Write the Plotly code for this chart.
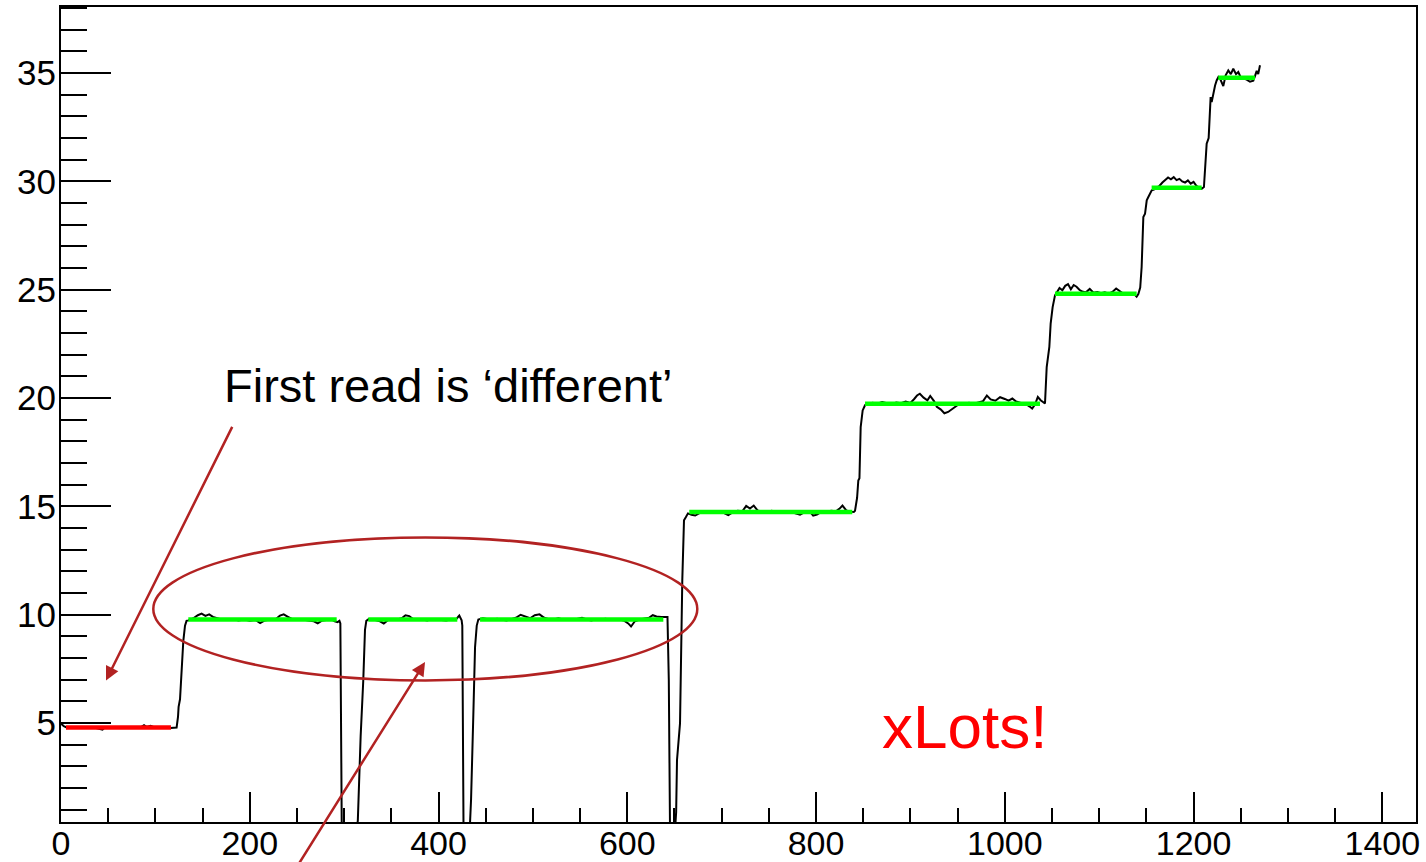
import numpy as np
import plotly.graph_objects as go

# ---- readings (black trace), one block per plateau / transition ----
plateau_a_x = [0, 3, 6, 12, 20, 28, 36, 44, 46, 52, 60, 68, 76, 84, 88, 91, 95, 99, 104, 110, 116, 121, 122.5]
plateau_a_y = [4.98, 4.86, 4.80, 4.78, 4.79, 4.77, 4.78, 4.70, 4.78, 4.79, 4.78, 4.77, 4.78, 4.79, 4.90, 4.82, 4.88, 4.80, 4.78, 4.79, 4.78, 4.77, 4.80]

rise_1_x = [124.0, 124.6, 126.1, 127.9, 129.6, 131.4, 133.0]
rise_1_y = [5.30, 5.75, 6.10, 7.60, 8.80, 9.50, 9.72]

plateau_b_x = [135, 138, 141, 145, 149, 153, 157, 161, 165, 170, 176, 182, 188, 194, 200, 206, 211, 216, 222, 228,
               232, 236, 240, 245, 250, 256, 262, 268, 272, 276, 281, 286, 290, 293, 295]
plateau_b_y = [9.74, 9.80, 9.86, 9.98, 10.05, 9.95, 10.02, 9.90, 9.84, 9.78, 9.76, 9.80, 9.74, 9.78, 9.72, 9.76, 9.62, 9.74, 9.78, 9.82,
               9.96, 10.02, 9.92, 9.80, 9.76, 9.78, 9.74, 9.70, 9.60, 9.72, 9.76, 9.80, 9.70, 9.66, 9.72]

drop_1_x = [296.0, 297.5, 313.0]
drop_1_y = [9.60, 0.0, 0.0]

rise_2_x = [314.5, 317.5, 320.3, 322.1, 323.5]
rise_2_y = [0.50, 4.40, 7.00, 9.30, 9.72]

plateau_c_x = [326, 329, 333, 338, 342, 346, 351, 356, 361, 365, 369, 373, 378, 383, 388, 393, 398, 403, 408, 413, 418, 422, 424.5]
plateau_c_y = [9.80, 9.78, 9.76, 9.70, 9.60, 9.74, 9.80, 9.78, 9.84, 9.98, 9.94, 9.80, 9.76, 9.78, 9.74, 9.80, 9.78, 9.76, 9.74, 9.78, 9.76, 9.96, 9.74]

drop_2_x = [425.2, 426.5, 433.0]
drop_2_y = [9.50, 0.0, 0.0]

rise_3_x = [434.5, 436.9, 438.7, 440.5, 442.2]
rise_3_y = [1.50, 5.40, 8.50, 9.50, 9.78]

plateau_d_x = [447, 452, 457, 462, 467, 472, 477, 482, 487, 492, 497, 502, 507, 512, 517, 522, 527, 532, 537, 542,
               547, 552, 557, 562, 567, 572, 577, 582, 587, 592, 597, 601, 604, 608, 613, 618, 623, 627, 631, 636, 641]
plateau_d_y = [9.84, 9.80, 9.76, 9.82, 9.78, 9.74, 9.80, 9.86, 10.00, 9.92, 9.84, 9.98, 10.02, 9.86, 9.80, 9.78, 9.84, 9.78, 9.80, 9.76,
               9.82, 9.86, 9.78, 9.74, 9.80, 9.78, 9.82, 9.76, 9.80, 9.78, 9.72, 9.60, 9.46, 9.70, 9.78, 9.82, 9.86, 9.98, 9.92, 9.90, 9.92]

drop_3_x = [642.6, 644.0, 645.3, 650.5]
drop_3_y = [9.90, 7.00, 0.0, 0.0]

rise_4_x = [651.8, 652.7, 655.9, 658.3, 660.1, 662.0, 664.3]
rise_4_y = [0.90, 3.30, 5.00, 11.60, 14.36, 14.50, 14.68]

plateau_e_x = [668, 672, 677, 682, 687, 692, 697, 702, 707, 712, 717, 722, 726, 730, 734, 738, 743, 748, 753, 758,
               763, 768, 773, 778, 783, 788, 793, 797, 801, 806, 811, 816, 821, 825, 828, 832, 836, 840]
plateau_e_y = [14.62, 14.58, 14.70, 14.74, 14.78, 14.72, 14.76, 14.70, 14.60, 14.74, 14.80, 14.78, 15.02, 14.90, 15.04, 14.82, 14.76, 14.74, 14.80, 14.74,
               14.78, 14.72, 14.76, 14.68, 14.62, 14.74, 14.78, 14.58, 14.62, 14.76, 14.74, 14.80, 14.78, 14.90, 15.04, 14.82, 14.76, 14.74]

rise_5_x = [841.3, 843.5, 844.8, 846.0, 846.6, 847.3, 849.4, 851.9]
rise_5_y = [14.80, 15.40, 16.20, 16.30, 17.70, 18.66, 19.43, 19.67]

plateau_f_x = [856, 860, 865, 870, 875, 880, 885, 890, 895, 900, 904, 907, 910, 914, 918, 921, 925, 928, 932, 936,
               940, 944, 948, 952, 957, 962, 967, 972, 977, 981, 985, 990, 995, 1000, 1004, 1008, 1012, 1017, 1022, 1026,
               1029, 1032, 1035, 1038, 1040.5]
plateau_f_y = [19.70, 19.78, 19.74, 19.82, 19.76, 19.72, 19.80, 19.76, 19.84, 19.78, 19.96, 20.12, 20.20, 20.02, 19.90, 20.10, 19.86, 19.60, 19.48, 19.30,
               19.36, 19.50, 19.62, 19.74, 19.70, 19.78, 19.74, 19.80, 19.86, 20.12, 19.94, 19.88, 20.04, 19.96, 19.88, 19.98, 19.84, 19.78, 19.74, 19.62,
               19.52, 19.70, 20.05, 19.90, 19.80]

rise_6_x = [1042.6, 1044.4, 1047.2, 1048.6, 1050.7, 1053.2]
rise_6_y = [19.75, 21.43, 22.36, 23.44, 24.20, 24.74]

plateau_g_x = [1055.5, 1058, 1061, 1064, 1067, 1070, 1073, 1076, 1079, 1082, 1086, 1090, 1094, 1098, 1102, 1106, 1110, 1114, 1118, 1121,
               1125, 1129, 1133, 1137, 1139.7]
plateau_g_y = [24.92, 25.08, 24.98, 25.18, 25.26, 25.02, 25.22, 25.14, 25.00, 24.92, 24.88, 25.04, 24.86, 24.90, 24.84, 24.88, 24.82, 24.90, 25.06, 24.96,
               24.84, 24.80, 24.76, 24.80, 24.68]

rise_7_x = [1141.5, 1143.5, 1145.0, 1146.8, 1148.6, 1150.4, 1152.1, 1155.7]
rise_7_y = [24.80, 25.10, 26.05, 28.36, 28.51, 29.13, 29.28, 29.59]

plateau_h_x = [1158, 1161, 1164, 1167, 1170, 1173, 1176, 1179, 1182, 1185, 1188, 1191, 1194, 1197, 1200, 1203, 1206, 1208.6]
plateau_h_y = [29.62, 29.72, 29.80, 29.95, 30.05, 30.18, 30.10, 30.20, 30.06, 30.12, 30.00, 29.95, 30.05, 29.90, 29.98, 29.80, 29.72, 29.66]

rise_8_x = [1211.0, 1213.9, 1216.0, 1218.1, 1219.2, 1221.0, 1222.8, 1224.5, 1226.3]
rise_8_y = [29.74, 31.74, 32.00, 33.89, 33.66, 34.12, 34.43, 34.66, 34.82]

plateau_i_x = [1228.5, 1231.5, 1234, 1236.8, 1239.5, 1242.1, 1245, 1247.4, 1250, 1253, 1256.3, 1259.8, 1263.3, 1265, 1266.9, 1268.5, 1270.4]
plateau_i_y = [34.70, 34.40, 34.90, 35.12, 34.95, 35.20, 34.95, 35.05, 34.80, 34.75, 34.70, 34.60, 34.65, 34.85, 35.10, 34.95, 35.36]

# ---- fitted plateau levels ----
first_fit_x = [5.3, 116.5]
first_fit_level = 4.80

fit_start = [134.9, 325.6, 444.0, 665.7, 851.9, 1053.2, 1155.6, 1226.2]
fit_end = [292.1, 419.9, 638.2, 838.4, 1037.3, 1139.7, 1208.6, 1265.1]
fit_level = [9.78, 9.78, 9.78, 14.74, 19.74, 24.82, 29.71, 34.79]

# ---- axis ticks ----
x_tick_vals = [0, 200, 400, 600, 800, 1000, 1200, 1400]
y_tick_vals = [5, 10, 15, 20, 25, 30, 35]

blocks = [
    (plateau_a_x, plateau_a_y), (rise_1_x, rise_1_y), (plateau_b_x, plateau_b_y), (drop_1_x, drop_1_y),
    (rise_2_x, rise_2_y), (plateau_c_x, plateau_c_y), (drop_2_x, drop_2_y), (rise_3_x, rise_3_y),
    (plateau_d_x, plateau_d_y), (drop_3_x, drop_3_y), (rise_4_x, rise_4_y), (plateau_e_x, plateau_e_y),
    (rise_5_x, rise_5_y), (plateau_f_x, plateau_f_y), (rise_6_x, rise_6_y), (plateau_g_x, plateau_g_y),
    (rise_7_x, rise_7_y), (plateau_h_x, plateau_h_y), (rise_8_x, rise_8_y), (plateau_i_x, plateau_i_y),
]
read_x = np.concatenate([np.asarray(bx, float) for bx, _ in blocks])
read_y = np.concatenate([np.asarray(by, float) for _, by in blocks])

fig = go.Figure()

fig.add_trace(go.Scatter(x=read_x, y=read_y, mode="lines",
                         line=dict(color="black", width=2), hoverinfo="skip"))

fig.add_trace(go.Scatter(x=first_fit_x, y=[first_fit_level, first_fit_level], mode="lines",
                         line=dict(color="#FF0000", width=4.5), hoverinfo="skip"))

for xs, xe, lv in zip(fit_start, fit_end, fit_level):
    fig.add_trace(go.Scatter(x=[xs, xe], y=[lv, lv], mode="lines",
                             line=dict(color="#00FF00", width=4.5), hoverinfo="skip"))

DARKRED = "#B22222"
FONT = "Liberation Sans, Arial, sans-serif"

fig.add_shape(type="circle", xref="x", yref="y", x0=97.8, x1=674.2, y0=6.97, y1=13.57,
              line=dict(color=DARKRED, width=2.5), layer="above")

annotations = [
    dict(x=47.7, y=6.97, ax=182.2, ay=18.74, axref="x", ayref="y", xref="x", yref="y",
         text="", showarrow=True, arrowhead=2, arrowsize=1.1, arrowwidth=2.5, arrowcolor=DARKRED, standoff=0),
    dict(x=385.7, y=7.82, ax=249.0, ay=-1.7, axref="x", ayref="y", xref="x", yref="y",
         text="", showarrow=True, arrowhead=2, arrowsize=1.1, arrowwidth=2.5, arrowcolor=DARKRED, standoff=0),
    dict(x=170.6, y=20.59, xref="x", yref="y", xanchor="left", yanchor="middle",
         text="First read is \u2018different\u2019", showarrow=False,
         font=dict(family=FONT, size=47, color="black")),
    dict(x=867.8, y=4.85, xref="x", yref="y", xanchor="left", yanchor="middle",
         text="xLots!", showarrow=False,
         font=dict(family=FONT, size=62, color="#FF0000")),
]

fig.update_layout(
    width=1426, height=862,
    margin=dict(l=61, r=10, t=7, b=40, pad=0),
    paper_bgcolor="white", plot_bgcolor="white",
    showlegend=False,
    annotations=annotations,
    font=dict(family=FONT, color="black"),
)

fig.update_xaxes(
    range=[0, 1435.7], showgrid=False, zeroline=False, automargin=False,
    showline=True, linecolor="black", linewidth=2, mirror=True,
    tickmode="array", tickvals=x_tick_vals, ticktext=[str(v) for v in x_tick_vals],
    ticks="inside", ticklen=30, tickwidth=2, tickcolor="black",
    minor=dict(ticks="inside", ticklen=14, tickwidth=2, tickcolor="black", dtick=50, tick0=0),
    tickfont=dict(family=FONT, size=34, color="black"),
    ticklabelstandoff=-10,
)
fig.update_yaxes(
    range=[0.436, 38.05], showgrid=False, zeroline=False, automargin=False,
    showline=True, linecolor="black", linewidth=2, mirror=True,
    tickmode="array", tickvals=y_tick_vals, ticktext=[str(v) for v in y_tick_vals],
    ticks="inside", ticklen=50, tickwidth=2, tickcolor="black",
    minor=dict(ticks="inside", ticklen=26, tickwidth=2, tickcolor="black", dtick=1, tick0=0),
    tickfont=dict(family=FONT, size=35, color="black"),
    ticklabelstandoff=-4,
)

fig.write_html("out.html")
